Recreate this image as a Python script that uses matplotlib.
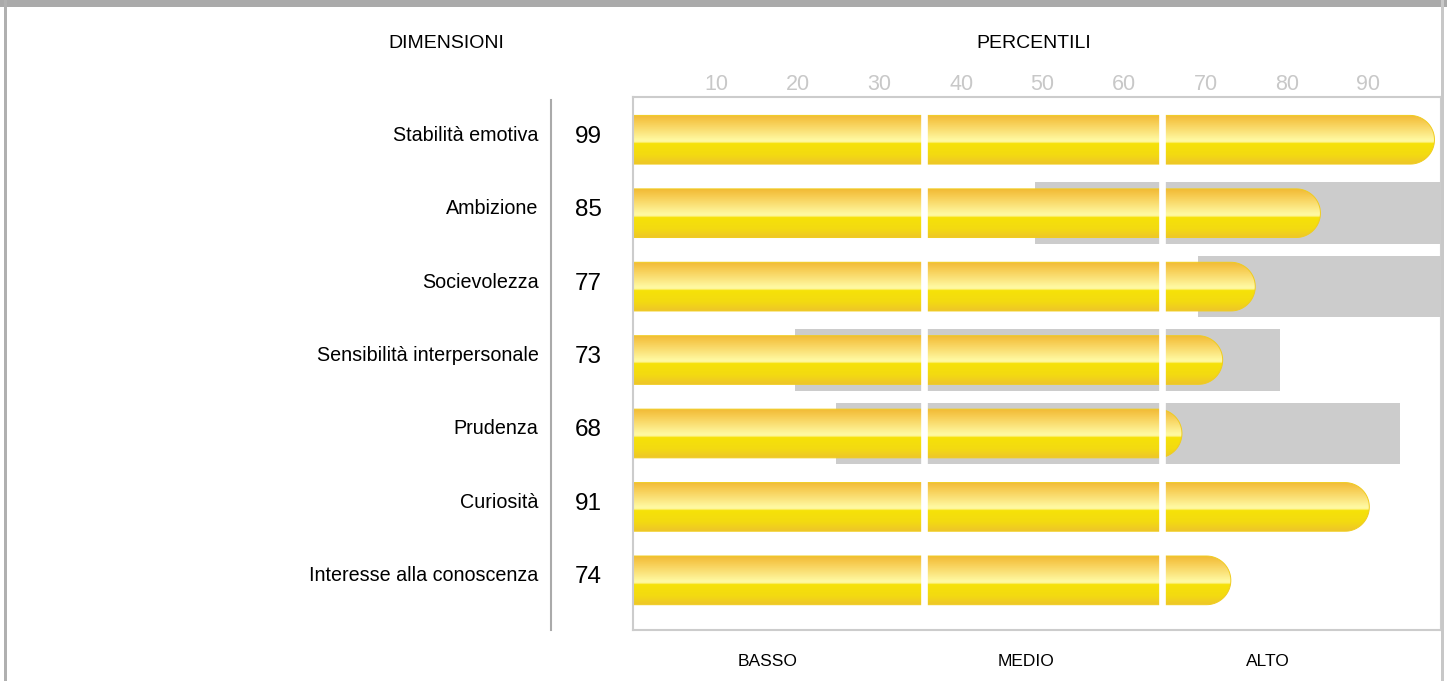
#script for the percentile profile chart

import numpy as np
import matplotlib.pyplot as plt
from matplotlib.path import Path
from matplotlib.patches import PathPatch, Rectangle
from matplotlib.colors import to_rgb

plt.rcParams['font.family'] = ['Liberation Sans', 'DejaVu Sans']

# data
dimensioni = ['Stabilità emotiva', 'Ambizione', 'Socievolezza',
              'Sensibilità interpersonale', 'Prudenza', 'Curiosità',
              'Interesse alla conoscenza']
percentili = [99, 85, 77, 73, 68, 91, 74]
range_low = [None, 50, 70, 20.5, 25.5, None, None]
range_high = [None, 100, 100, 80, 94.8, None, None]
tick_vals = [10, 20, 30, 40, 50, 60, 70, 80, 90]
fasce = ['BASSO', 'MEDIO', 'ALTO']
fasce_bordi = [36.3, 65.6]

W, H = 1447, 681
fig = plt.figure(figsize=(W / 100, H / 100), dpi=100)

# axes box in pixels
ax_l, ax_r, ax_t, ax_b = 633.3, 1441, 96.5, 630
ax = fig.add_axes([ax_l / W, 1 - ax_b / H, (ax_r - ax_l) / W, (ax_b - ax_t) / H])
xmin, xmax = 0.65, 99.8
ymin, ymax = -0.589, 6.676
px_per_x = (ax_r - ax_l) / (xmax - xmin)
px_per_y = (ax_b - ax_t) / (ymax - ymin)

bar_h = 0.663
rng_h = 0.84

# vertical gradient of the yellow bars (top -> bottom)
stops = [(0.0, '#F2BA36'), (0.12, '#F6C94C'), (0.52, '#FFFAA4'),
         (0.555, '#FFF490'), (0.575, '#F6E208'), (0.82, '#F3DA12'),
         (1.0, '#EEC52A')]
n = 200
tt = np.linspace(0, 1, n)
grad = np.zeros((n, 1, 3))
for c in range(3):
    grad[:, 0, c] = np.interp(tt, [s[0] for s in stops], [to_rgb(s[1])[c] for s in stops])

for i, (lo, hi) in enumerate(zip(range_low, range_high)):
    if lo is None:
        continue
    ax.barh(i, hi - lo, left=lo, height=rng_h, color='#CCCCCC', zorder=1)

for i, v in enumerate(percentili):
    y0, y1 = i - bar_h / 2, i + bar_h / 2
    rx = (bar_h / 2) * px_per_y / px_per_x
    cx = v - rx
    ang = np.linspace(-np.pi / 2, np.pi / 2, 40)
    verts = [(-5, y0), (cx, y0)]
    verts += [(cx + rx * np.cos(a), i + (bar_h / 2) * np.sin(a)) for a in ang]
    verts += [(-5, y1), (-5, y0)]
    codes = [Path.MOVETO] + [Path.LINETO] * (len(verts) - 2) + [Path.CLOSEPOLY]
    path = Path(verts, codes)
    clip = PathPatch(path, transform=ax.transData, facecolor='none',
                     edgecolor='#F0CC1E', lw=0.7, zorder=2.2)
    ax.add_patch(clip)
    im = ax.imshow(grad, extent=(-5, v, y1, y0), aspect='auto',
                   origin='upper', zorder=2, interpolation='bilinear')
    im.set_clip_path(clip)

for b in fasce_bordi:
    ax.axvline(b, color='white', lw=4.8, zorder=2.4)

ax.set_xlim(xmin, xmax)
ax.set_ylim(ymax, ymin)
ax.set_yticks([])
ax.xaxis.tick_top()
ax.set_xticks([t + 0.9 for t in tick_vals], [str(t) for t in tick_vals])
ax.tick_params(axis='x', length=0, pad=1, labelsize=15.5, labelcolor='#C8C8C8')
for s in ax.spines.values():
    s.set_color('#CCCCCC')
    s.set_linewidth(1.5)
    s.set_zorder(3)

# left columns
for i, (name, v) in enumerate(zip(dimensioni, percentili)):
    ypx = ax_t + (i - ymin) * px_per_y
    fig.text(538.5 / W, 1 - (ypx - 4.5) / H, name, ha='right', va='center', fontsize=14.2)
    fig.text(588.5 / W, 1 - (ypx - 3) / H, str(v), ha='center', va='center', fontsize=17.5)

fig.add_artist(plt.Line2D([550.7 / W, 550.7 / W], [1 - 100 / H, 1 - 630 / H],
                          color='#AAAAAA', lw=1.5))

fig.text(446.5 / W, 1 - 43 / H, 'DIMENSIONI', ha='center', va='center', fontsize=14)
fig.text(1034 / W, 1 - 43 / H, 'PERCENTILI', ha='center', va='center', fontsize=14)

# band labels below the box
fasce_x = [17.1, 48.9, 78.5]
for lab, xv in zip(fasce, fasce_x):
    fig.text((ax_l + (xv - xmin) * px_per_x) / W, 1 - 662 / H, lab,
             ha='center', va='center', fontsize=12.5)

# outer frame
fig.add_artist(Rectangle((0, 1 - 7 / H), 1, 7 / H, transform=fig.transFigure,
                         color='#AAAAAA', lw=0))
fig.add_artist(Rectangle((4 / W, 0), 2.5 / W, 1, transform=fig.transFigure,
                         color='#B0B0B0', lw=0))
fig.add_artist(Rectangle((1441 / W, 0), 2.5 / W, 1, transform=fig.transFigure,
                         color='#C8C8C8', lw=0))

fig.savefig('out.png', dpi=100)
